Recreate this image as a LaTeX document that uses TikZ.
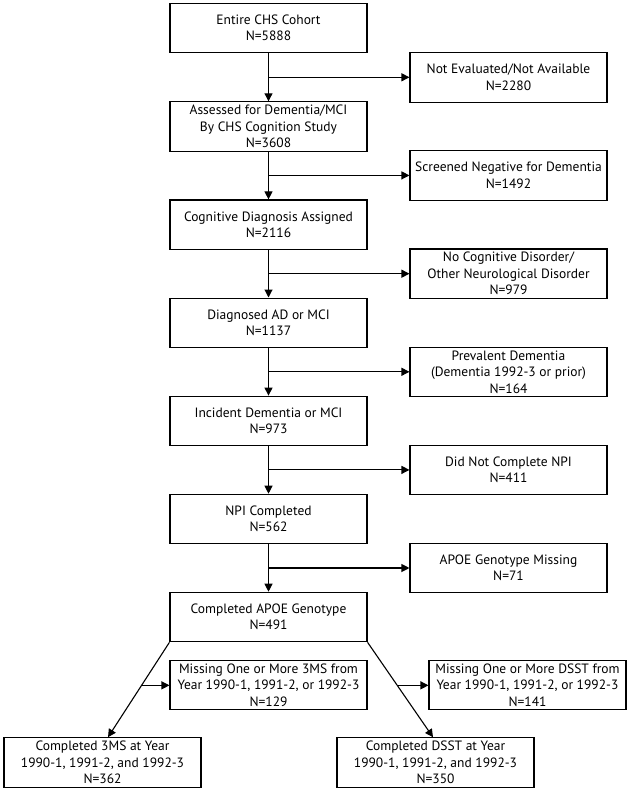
\documentclass[tikz,border=0pt]{standalone}
\usepackage{fontspec}
\setmainfont{PT Sans}
\usetikzlibrary{arrows.meta,calc}
\begin{document}
\begin{tikzpicture}[x=1pt,y=-1pt,
  box/.style={draw,line width=1.1pt,minimum width=197pt,minimum height=49.5pt,align=center,inner sep=1pt,
    font=\fontsize{13.5}{16.5}\selectfont},
  conn/.style={line width=1.1pt},
  arr/.style={line width=1.1pt,-{Triangle[length=8pt,width=8pt]}}]
\useasboundingbox (0,0) rectangle (630,792);
% main column
\node[box] (m1) at (268.5,28) {Entire CHS Cohort\\N=5888};
\node[box] (m2) at (268.5,126.6) {Assessed for Dementia/MCI\\By CHS Cognition Study\\N=3608};
\node[box] (m3) at (268.5,224.7) {Cognitive Diagnosis Assigned\\N=2116};
\node[box] (m4) at (268.5,322.8) {Diagnosed AD or MCI\\N=1137};
\node[box] (m5) at (268.5,420.9) {Incident Dementia or MCI\\N=973};
\node[box] (m6) at (268.5,519) {NPI Completed\\N=562};
\node[box] (m7) at (268.5,617) {Completed APOE Genotype\\N=491};
% side column
\node[box] (s1) at (508.5,77.3) {Not Evaluated/Not Available\\N=2280};
\node[box] (s2) at (508.5,175.4) {Screened Negative for Dementia\\N=1492};
\node[box] (s3) at (508.5,273.7) {No Cognitive Disorder/\\Other Neurological Disorder\\N=979};
\node[box] (s4) at (508.5,371.8) {Prevalent Dementia\\(Dementia 1992-3 or prior)\\N=164};
\node[box] (s5) at (508.5,469.9) {Did Not Complete NPI\\N=411};
\node[box] (s6) at (508.5,568) {APOE Genotype Missing\\N=71};
% bottom
\node[box] (x1) at (268.5,685) {Missing One or More 3MS from\\Year 1990-1, 1991-2, or 1992-3\\N=129};
\node[box] (x2) at (527.5,685) {Missing One or More DSST from\\Year 1990-1, 1991-2, or 1992-3\\N=141};
\node[box] (c1) at (102.5,762.5) {Completed 3MS at Year\\1990-1, 1991-2, and 1992-3\\N=362};
\node[box] (c2) at (435.5,762.5) {Completed DSST at Year\\1990-1, 1991-2, and 1992-3\\N=350};
% vertical flow with branches
\foreach \a/\b/\s in {m1/m2/s1,m2/m3/s2,m3/m4/s3,m4/m5/s4,m5/m6/s5,m6/m7/s6}{
  \coordinate (br\s) at (\a.south |- \s.west);
  \draw[arr] (\a.south) -- (\b.north);
  \draw[arr] (br\s) -- (\s.west);
}
% diagonals
\coordinate (t1) at ([xshift=5.5pt]c1.north);
\coordinate (t2) at ([xshift=-2.5pt]c2.north);
\draw[arr] (m7.south west) -- (t1);
\draw[arr] (m7.south east) -- (t2);
\coordinate (d1) at ($(m7.south west)!0.4536!(t1)$);
\coordinate (d2) at ($(m7.south east)!0.4536!(t2)$);
\draw[arr] (d1) -- (d1 -| x1.west);
\draw[arr] (d2) -- (d2 -| x2.west);
\end{tikzpicture}
\end{document}
